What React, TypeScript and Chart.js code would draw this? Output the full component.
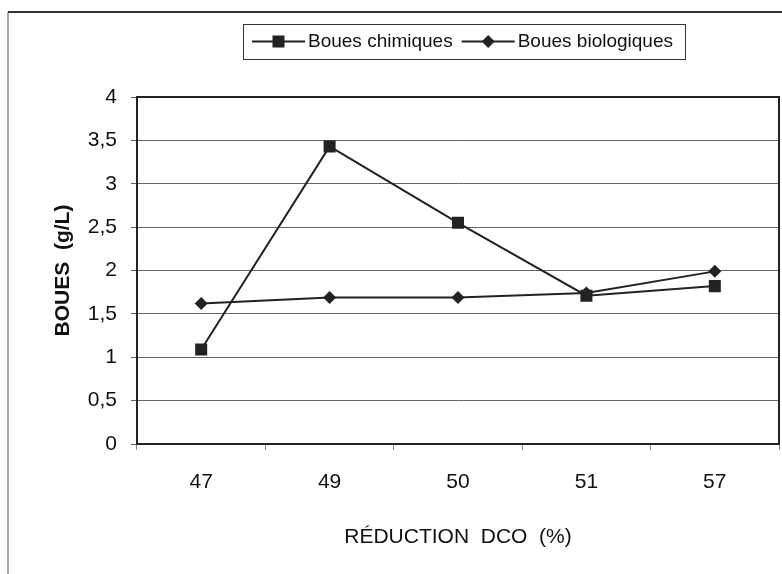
import React, { useEffect, useRef } from "react";
import { Chart, registerables } from "chart.js";

Chart.register(...registerables);

const categories = ["47", "49", "50", "51", "57"];
const chimiques = [1.09, 3.43, 2.55, 1.71, 1.82];
const biologiques = [1.62, 1.69, 1.69, 1.74, 1.99];
const seriesLabels = ["Boues chimiques", "Boues biologiques"];
const yTitle = "BOUES  (g/L)";
const xTitle = "RÉDUCTION  DCO  (%)";

const FONT = "'Liberation Sans', Arial, sans-serif";
const INK = "#222";

const framePlugin = {
  id: "frame",
  beforeDraw(chart: any) {
    const ctx = chart.ctx;
    ctx.save();
    ctx.strokeStyle = "#aaa";
    ctx.lineWidth = 2;
    ctx.beginPath();
    ctx.moveTo(8, 12);
    ctx.lineTo(8, chart.height);
    ctx.stroke();
    ctx.strokeStyle = "#333";
    ctx.beginPath();
    ctx.moveTo(8, 12);
    ctx.lineTo(chart.width, 12);
    ctx.stroke();
    ctx.restore();
  },
  afterDatasetsDraw(chart: any) {
    const { ctx, chartArea } = chart;
    ctx.save();
    ctx.strokeStyle = INK;
    ctx.lineWidth = 2;
    ctx.beginPath();
    ctx.moveTo(chartArea.left, chartArea.top);
    ctx.lineTo(chartArea.right, chartArea.top);
    ctx.lineTo(chartArea.right, chartArea.bottom);
    ctx.stroke();
    ctx.restore();
  },
};

function drawMarker(ctx: CanvasRenderingContext2D, style: string, x: number, y: number, r: number) {
  ctx.beginPath();
  if (style === "rect") {
    const s = r * Math.SQRT1_2;
    ctx.rect(x - s, y - s, 2 * s, 2 * s);
  } else {
    ctx.moveTo(x - r, y);
    ctx.lineTo(x, y - r);
    ctx.lineTo(x + r, y);
    ctx.lineTo(x, y + r);
    ctx.closePath();
  }
  ctx.fill();
}

const legendPlugin = {
  id: "boxLegend",
  afterDraw(chart: any) {
    const { ctx, chartArea } = chart;
    const ds = chart.data.datasets;
    ctx.save();
    ctx.font = `19px ${FONT}`;
    ctx.textBaseline = "middle";
    const padL = 9, lineW = 53, gapT = 3, gapItem = 9, padR = 12;
    const widths = ds.map((d: any) => ctx.measureText(d.label).width);
    let total = padL + padR;
    widths.forEach((w: number, i: number) => {
      total += lineW + gapT + w + (i > 0 ? gapItem : 0);
    });
    const cx = (chartArea.left + chartArea.right) / 2 + 6;
    const left = Math.round(cx - total / 2);
    const top = 24;
    const h = 35;
    const cy = top + h / 2;
    ctx.strokeStyle = "#333";
    ctx.lineWidth = 1;
    ctx.strokeRect(left + 0.5, top + 0.5, total, h);
    let x = left + padL;
    ds.forEach((d: any, i: number) => {
      if (i > 0) x += gapItem;
      ctx.strokeStyle = d.borderColor;
      ctx.lineWidth = 2;
      ctx.beginPath();
      ctx.moveTo(x, cy);
      ctx.lineTo(x + lineW, cy);
      ctx.stroke();
      ctx.fillStyle = d.pointBackgroundColor;
      drawMarker(ctx, d.pointStyle, x + lineW / 2, cy, d.pointRadius);
      x += lineW + gapT;
      ctx.fillStyle = "#111";
      ctx.textAlign = "left";
      ctx.fillText(d.label, x, cy);
      x += widths[i];
    });
    ctx.restore();
  },
};

export default function App() {
  const ref = useRef<HTMLCanvasElement>(null);
  useEffect(() => {
    if (!ref.current) return;
    const chart = new Chart(ref.current, {
      type: "line",
      data: {
        labels: categories,
        datasets: [
          {
            label: seriesLabels[0],
            data: chimiques,
            borderColor: INK,
            backgroundColor: INK,
            borderWidth: 2,
            pointStyle: "rect",
            pointRadius: 8.5,
            pointBackgroundColor: INK,
            pointBorderColor: INK,
            pointBorderWidth: 0,
            tension: 0,
          },
          {
            label: seriesLabels[1],
            data: biologiques,
            borderColor: INK,
            backgroundColor: INK,
            borderWidth: 2,
            pointStyle: "rectRot",
            pointRadius: 6.5,
            pointBackgroundColor: INK,
            pointBorderColor: INK,
            pointBorderWidth: 0,
            tension: 0,
          },
        ],
      },
      options: {
        responsive: false,
        animation: false,
        devicePixelRatio: 1,
        layout: { autoPadding: false, padding: { top: 97, right: 3, left: 0, bottom: 0 } },
        plugins: {
          legend: { display: false },
          tooltip: { enabled: false },
        },
        scales: {
          x: {
            type: "category",
            offset: true,
            afterFit: (s: any) => {
              s.height = 130;
              s.paddingLeft = 0;
              s.paddingRight = 0;
            },
            grid: {
              offset: true,
              drawOnChartArea: false,
              drawTicks: true,
              tickLength: 6,
              color: "#888",
            },
            border: { color: INK, width: 2 },
            ticks: {
              color: "#111",
              font: { family: FONT, size: 21 },
              padding: 20,
              maxRotation: 0,
            },
            title: {
              display: true,
              text: xTitle,
              color: "#111",
              font: { family: FONT, size: 21 },
              padding: { top: 0, bottom: 24 },
            },
          },
          y: {
            min: 0,
            max: 4,
            afterFit: (s: any) => {
              s.width = 137;
            },
            grid: { color: "#666", lineWidth: 1, tickLength: 6 },
            border: { color: INK, width: 2 },
            ticks: {
              stepSize: 0.5,
              color: "#111",
              font: { family: FONT, size: 21 },
              padding: 14,
              callback: (v: any) => String(v).replace(".", ","),
            },
            title: {
              display: true,
              text: yTitle,
              color: "#111",
              font: { family: FONT, size: 21, weight: "bold" },
              padding: { top: 51, bottom: 0 },
            },
          },
        },
      },
      plugins: [framePlugin, legendPlugin],
    } as any);
    return () => chart.destroy();
  }, []);
  return (
    <div style={{ position: "absolute", left: 0, top: 0, width: 782, height: 574, background: "#fff" }}>
      <canvas ref={ref} width={782} height={574} />
    </div>
  );
}
